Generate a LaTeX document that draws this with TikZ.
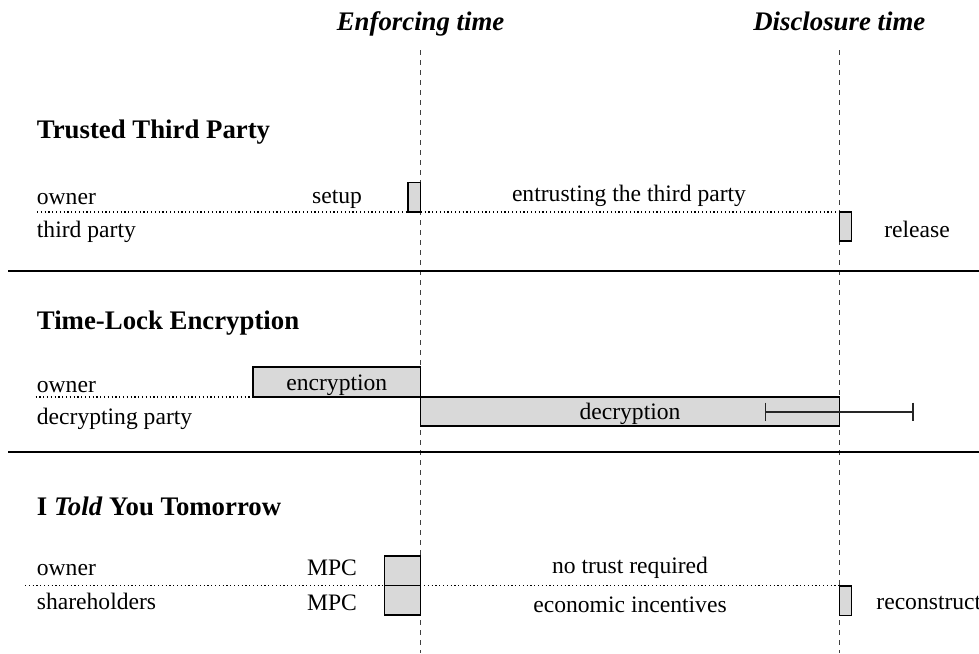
\documentclass[tikz,border=0pt]{standalone}
\usepackage{fontspec}
\setmainfont{Liberation Serif}
\begin{document}
\begin{tikzpicture}[x=0.5pt,y=-0.5pt,
  lbl/.style={font=\fontsize{11.8}{14}\selectfont, inner sep=0pt, anchor=base},
  lblw/.style={lbl, anchor=base west},
  ttl/.style={font=\fontsize{13.4}{16}\selectfont\bfseries, inner sep=0pt, anchor=base west},
  hdr/.style={font=\fontsize{13.4}{16}\selectfont\bfseries\itshape, inner sep=0pt, anchor=base},
  act/.style={draw=black, fill=black!15, line width=0.65pt},
  timeline/.style={draw=black!75, line width=0.5pt, dash pattern=on 2.7pt off 2.3pt},
  lane/.style={draw=black, line width=0.6pt, dash pattern=on 0.6pt off 1.3pt},
  sep/.style={draw=black, line width=1pt},
  errbar/.style={draw=black!85, line width=0.85pt}]
\useasboundingbox (0,0) rectangle (979,653);

% time markers
\node[hdr] (hE) at (420.6,30) {Enforcing time};
\node[hdr] (hD) at (839.3,30) {Disclosure time};
\coordinate (eTop) at (420.6,50);  \coordinate (eBot) at (420.6,653);
\coordinate (dTop) at (839.3,50);  \coordinate (dBot) at (839.3,653);
\draw[timeline] (eTop) -- (eBot);
\draw[timeline] (dTop) -- (dBot);

% ---------------- Trusted Third Party
\node[ttl] (t1) at (36.5,138) {Trusted Third Party};
\node[lblw] (t1o) at (36.5,204) {owner};
\node[lblw] (t1t) at (36.5,237) {third party};
\coordinate (l1a) at (37,212); \coordinate (l1b) at (839.3,212);
\draw[lane] (l1a) -- (l1b);
\draw[act] (408,182.5) rectangle (420.6,212);
\draw[act] (839.3,212) rectangle (851.5,241);
\node[lbl] (t1s) at (337,203) {setup};
\node[lbl] (t1e) at (629,201) {entrusting the third party};
\node[lbl] (t1r) at (917,237) {release};

\coordinate (s1a) at (8,270.5); \coordinate (s1b) at (979,270.5);
\draw[sep] (s1a) -- (s1b);

% ---------------- Time-Lock Encryption
\node[ttl] (t2) at (36.5,329) {Time-Lock Encryption};
\node[lblw] (t2o) at (36.5,392) {owner};
\node[lblw] (t2d) at (36.5,424) {decrypting party};
\coordinate (l2a) at (35.5,397); \coordinate (l2b) at (253,397);
\draw[lane] (l2a) -- (l2b);
\draw[act] (253,367) rectangle (420.6,397);
\draw[act] (420.6,397) rectangle (839.3,426);
\node[lbl] (t2e) at (336.8,390) {encryption};
\node[lbl] (t2x) at (630,419.5) {decryption};
\coordinate (b1) at (765.5,412); \coordinate (b2) at (913,412);
\draw[errbar] (b1) -- (b2);
\draw[errbar] (765.5,402.5) -- (765.5,421);
\draw[errbar] (913,402.5) -- (913,421);

\coordinate (s2a) at (8,451.5); \coordinate (s2b) at (979,451.5);
\draw[sep] (s2a) -- (s2b);

% ---------------- I Told You Tomorrow
\node[ttl] (t3) at (36.5,515) {I \textit{Told} You Tomorrow};
\node[lblw] (t3o) at (36.5,575) {owner};
\node[lblw] (t3s) at (36.5,609) {shareholders};
\coordinate (l3a) at (25,585.5); \coordinate (l3b) at (839.3,585.5);
\draw[lane] (l3a) -- (l3b);
\draw[act] (384.5,556) rectangle (420.6,585.5);
\draw[act] (384.5,585.5) rectangle (420.6,615);
\draw[act] (839.3,586) rectangle (851.5,615.5);
\node[lbl] (t3m1) at (332,575) {MPC};
\node[lbl] (t3m2) at (332,610) {MPC};
\node[lbl] (t3n) at (630,573) {no trust required};
\node[lbl] (t3c) at (630,612) {economic incentives};
\node[lblw] (t3r) at (876,609) {reconstruct};
\end{tikzpicture}
\end{document}
